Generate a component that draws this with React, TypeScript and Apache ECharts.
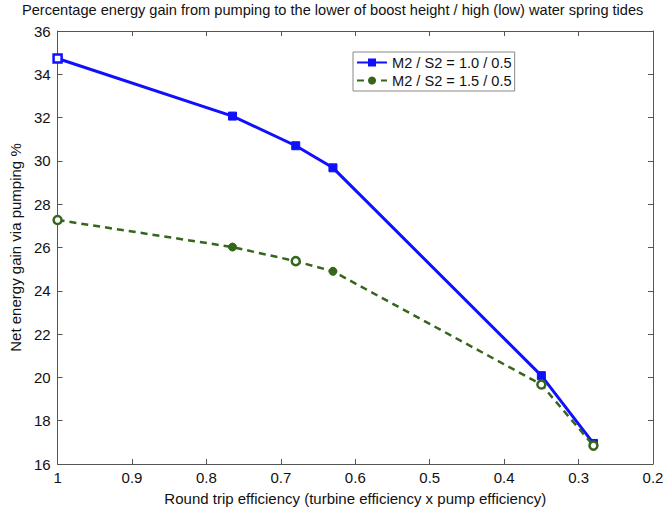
import React, { useEffect, useRef } from "react";
import * as echarts from "echarts";

const efficiency = [1, 0.765, 0.68, 0.63, 0.35, 0.28];
const series1Values = [34.73, 32.07, 30.7, 29.68, 20.08, 16.95];
const series2Values = [27.27, 26.02, 25.37, 24.9, 19.67, 16.85];
const series1Hollow = [true, false, false, false, false, false];
const series2Hollow = [true, false, true, false, true, true];
const seriesNames = ["M2 / S2 = 1.0 / 0.5", "M2 / S2 = 1.5 / 0.5"];
const titleText =
  "Percentage energy gain from pumping to the lower of boost height / high (low) water spring tides";
const xAxisName = "Round trip efficiency (turbine efficiency x pump efficiency)";
const yAxisName = "Net energy gain via pumping %";

const BLUE = "#1010ff";
const GREEN = "#35661c";
const FONT = "Liberation Sans, Arial, sans-serif";
const FS = 15;

export default function App() {
  const ref = useRef<HTMLDivElement>(null);
  useEffect(() => {
    if (!ref.current) return;
    const chart = echarts.init(ref.current, undefined, { renderer: "svg" });
    const mk = (vals: number[], hollow: boolean[], color: string) =>
      vals.map((v, i) => ({
        value: [efficiency[i], v],
        itemStyle: hollow[i]
          ? { color: "#ffffff", borderColor: color, borderWidth: 2.5 }
          : { color, borderColor: color, borderWidth: 1 },
      }));
    const axisLine = { show: true, lineStyle: { color: "#555", width: 1 } };
    const tick = { show: true, inside: true, length: 5, lineStyle: { color: "#555" } };
    chart.setOption({
      animation: false,
      backgroundColor: "#ffffff",
      textStyle: { fontFamily: FONT },
      title: {
        text: titleText,
        left: 22,
        top: 2,
        padding: 0,
        textStyle: {
          fontSize: 14.6,
          lineHeight: 16,
          fontWeight: "normal",
          color: "#111",
          fontFamily: FONT,
        },
      },
      legend: {
        left: 353,
        top: 52,
        orient: "vertical",
        borderColor: "#888",
        borderWidth: 1,
        backgroundColor: "#fff",
        padding: [3, 3, 3, 3],
        itemGap: 3,
        itemWidth: 30,
        itemHeight: 10,
        textStyle: { fontSize: 14.6, color: "#111", fontFamily: FONT },
        data: seriesNames,
      },
      grid: { left: 56, right: 19, top: 31, bottom: 47, containLabel: false },
      xAxis: [
        {
          type: "value",
          min: 0.2,
          max: 1,
          interval: 0.1,
          inverse: true,
          name: xAxisName,
          nameLocation: "middle",
          nameGap: 27,
          nameTextStyle: { fontSize: FS, color: "#111", fontFamily: FONT },
          axisLine,
          axisTick: tick,
          axisLabel: {
            fontSize: FS,
            color: "#111",
            margin: 6,
            fontFamily: FONT,
            formatter: (v: number) => String(+v.toFixed(1)),
          },
          splitLine: { show: false },
        },
        {
          type: "value",
          position: "top",
          min: 0.2,
          max: 1,
          interval: 0.1,
          inverse: true,
          axisLine,
          axisTick: tick,
          axisLabel: { show: false },
          splitLine: { show: false },
        },
      ],
      yAxis: [
        {
          type: "value",
          min: 16,
          max: 36,
          interval: 2,
          name: yAxisName,
          nameLocation: "middle",
          nameGap: 30,
          nameTextStyle: { fontSize: FS, color: "#111", fontFamily: FONT },
          axisLine,
          axisTick: tick,
          axisLabel: { fontSize: FS, lineHeight: 15, color: "#111", margin: 7, fontFamily: FONT },
          splitLine: { show: false },
        },
        {
          type: "value",
          position: "right",
          min: 16,
          max: 36,
          interval: 2,
          axisLine,
          axisTick: tick,
          axisLabel: { show: false },
          splitLine: { show: false },
        },
      ],
      series: [
        {
          name: seriesNames[0],
          type: "line",
          xAxisIndex: 0,
          yAxisIndex: 0,
          data: mk(series1Values, series1Hollow, BLUE),
          symbol: "rect",
          symbolSize: 8,
          lineStyle: { color: BLUE, width: 3 },
          itemStyle: { color: BLUE },
          z: 3,
        },
        {
          name: seriesNames[1],
          type: "line",
          xAxisIndex: 0,
          yAxisIndex: 0,
          data: mk(series2Values, series2Hollow, GREEN),
          symbol: "circle",
          symbolSize: 8,
          lineStyle: { color: GREEN, width: 2.5, type: [7, 5] },
          itemStyle: { color: GREEN },
          z: 4,
        },
      ],
    });
    return () => chart.dispose();
  }, []);
  return <div ref={ref} style={{ width: 672, height: 511, position: "absolute", left: 0, top: 0 }} />;
}
